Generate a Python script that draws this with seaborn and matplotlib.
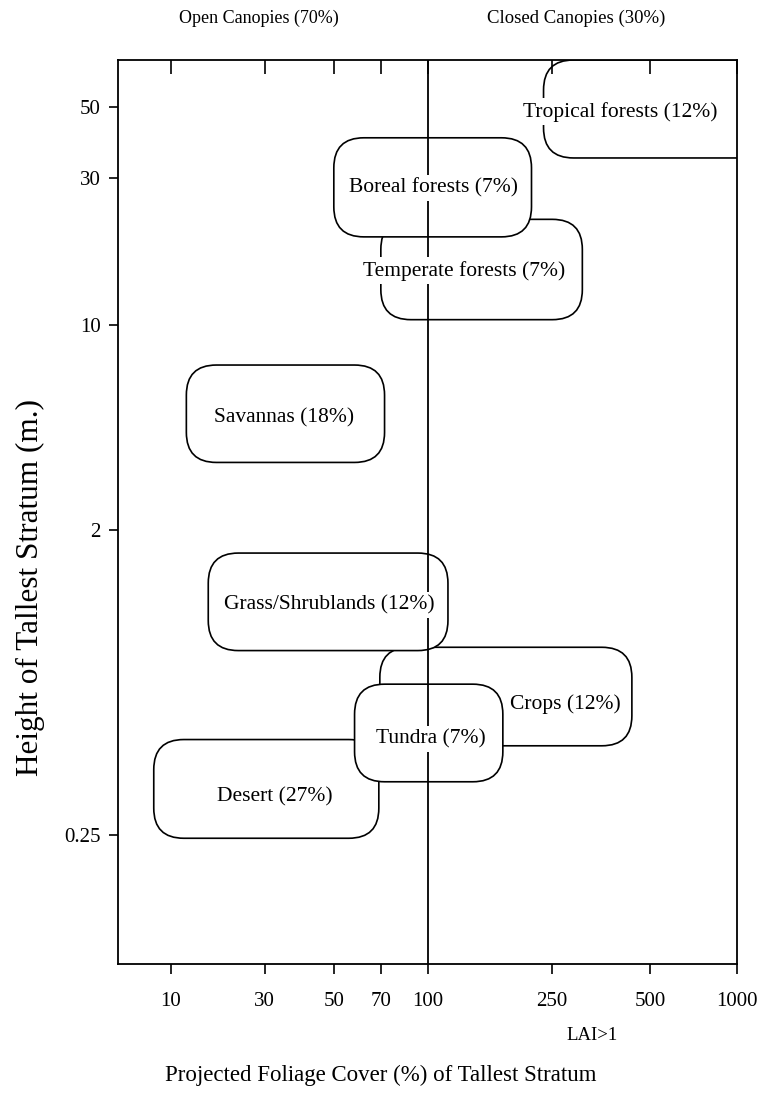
import numpy as np
import matplotlib
matplotlib.use("Agg")
import matplotlib.pyplot as plt
from matplotlib.patches import FancyBboxPatch
from matplotlib.transforms import IdentityTransform
from matplotlib.ticker import FixedLocator, FixedFormatter, NullLocator
import seaborn as sns

# Biome regions: projected foliage cover (%) and height of tallest stratum (m)
biomes = ["Tropical forests (12%)", "Temperate forests (7%)", "Boreal forests (7%)",
          "Savannas (18%)", "Crops (12%)", "Grass/Shrublands (12%)",
          "Desert (27%)", "Tundra (7%)"]
cover_low = [235, 70, 50, 12, 69.5, 15.5, 8.2, 58]
cover_high = [1500, 310, 215, 72, 440, 116, 69, 174]
height_low = [34.6, 10.4, 19.3, 3.4, 0.46, 0.88, 0.245, 0.36]
height_high = [70, 22, 40, 7.3, 0.9, 1.71, 0.48, 0.70]

# where each biome name sits
label_cover = [405, 131, 104, 34.5, 274, 48.5, 32.3, 102]
label_height = [48.2, 15.0, 27.8, 4.82, 0.611, 1.2, 0.324, 0.481]

x_ticks = [10, 30, 50, 70, 100, 250, 500, 1000]
x_tick_labels = ["10", "30", "50", "70", "100", "250", "500", "1000"]
y_ticks = [0.25, 2, 10, 30, 50]
y_tick_labels = ["0.25", "2", "10", "30", "50"]
closed_canopy_cover = 100

# The printed axes are only roughly logarithmic: piecewise-log scales
X_LOG = np.log10([1, 10, 30, 50, 70, 100, 250, 500, 1000, 10000])
X_POS = np.array([-26, 171, 265, 334, 381, 428, 552, 650, 737, 1026], float)
Y_LOG = np.log10([0.01, 0.25, 2, 10, 30, 50, 1000])
Y_POS = -np.array([1307, 835, 530, 325, 178, 107, -309], float)


def x_fwd(v):
    v = np.clip(np.asarray(v, float), 1e-9, None)
    return np.interp(np.log10(v), X_LOG, X_POS)


def x_inv(p):
    return 10 ** np.interp(np.asarray(p, float), X_POS, X_LOG)


def y_fwd(v):
    v = np.clip(np.asarray(v, float), 1e-9, None)
    return np.interp(np.log10(v), Y_LOG, Y_POS)


def y_inv(p):
    return 10 ** np.interp(np.asarray(p, float), Y_POS, Y_LOG)


sns.set_theme(style="white")
plt.rcParams["font.family"] = ["Liberation Serif", "DejaVu Serif"]
plt.rcParams["axes.linewidth"] = 1.3
plt.rcParams["axes.edgecolor"] = "black"

W, H = 762, 1102
fig = plt.figure(figsize=(W / 100, H / 100), dpi=100)
fig.patch.set_facecolor("white")
L, R, T, B = 118, 737, 60, 964
ax = fig.add_axes([L / W, 1 - B / H, (R - L) / W, (B - T) / H])
ax.set_facecolor("white")

ax.set_xscale("function", functions=(x_fwd, x_inv))
ax.set_yscale("function", functions=(y_fwd, y_inv))
ax.set_xlim(5.4, 1000)
ax.set_ylim(0.104, 70)
ax.autoscale(False)

ax.xaxis.set_major_locator(FixedLocator(x_ticks))
ax.xaxis.set_major_formatter(FixedFormatter(x_tick_labels))
ax.xaxis.set_minor_locator(NullLocator())
ax.yaxis.set_major_locator(FixedLocator(y_ticks))
ax.yaxis.set_major_formatter(FixedFormatter(y_tick_labels))
ax.yaxis.set_minor_locator(NullLocator())
ax.tick_params(axis="x", which="major", direction="out", length=7, width=1.2,
               color="black", labelsize=15, pad=13, bottom=True, top=False,
               labelcolor="black")
ax.tick_params(axis="y", which="major", direction="out", length=6.5, width=1.2,
               color="black", labelsize=15, pad=6, left=True, right=False,
               labelcolor="black")
for s in ax.spines.values():
    s.set_visible(True)
    s.set_color("black")
    s.set_linewidth(1.3)

# inward ticks along the top edge
top = ax.twiny()
top.set_xscale("function", functions=(x_fwd, x_inv))
top.set_xlim(ax.get_xlim())
top.xaxis.set_major_locator(FixedLocator(x_ticks))
top.xaxis.set_minor_locator(NullLocator())
top.tick_params(axis="x", direction="in", length=10, width=1.2, color="black",
                labeltop=False, top=True, bottom=False)
for s in top.spines.values():
    s.set_visible(False)

# rounded biome regions, drawn in pixel space so corners stay circular
radius = 30
for i, name in enumerate(biomes):
    (px0, py0), (px1, py1) = ax.transData.transform(
        [(cover_low[i], height_low[i]), (cover_high[i], height_high[i])])
    box = FancyBboxPatch((px0, py0), px1 - px0, py1 - py0,
                         boxstyle=f"round,pad=0,rounding_size={radius}",
                         transform=IdentityTransform(), facecolor="white",
                         edgecolor="black", linewidth=1.2, zorder=2 + i * 0.1)
    ax.add_patch(box)
    box.set_clip_path(ax.patch)

# closed / open canopy divide
ax.axvline(closed_canopy_cover, color="black", linewidth=1.3, zorder=4)

for i, name in enumerate(biomes):
    ax.text(label_cover[i], label_height[i], name, ha="center", va="center",
            fontsize=15.5, color="black", zorder=6,
            bbox=dict(facecolor="white", edgecolor="none", pad=2.5))

fig.text(259 / W, 1 - 18 / H, "Open Canopies (70%)", ha="center", va="center",
         fontsize=13, color="black")
fig.text(576 / W, 1 - 18 / H, "Closed Canopies (30%)", ha="center", va="center",
         fontsize=13.5, color="black")
fig.text(592 / W, 1 - 1035 / H, "LAI>1", ha="center", va="center",
         fontsize=13.5, color="black")
fig.text(381 / W, 1 - 1075 / H, "Projected Foliage Cover (%) of Tallest Stratum",
         ha="center", va="center", fontsize=16.5, color="black")
fig.text(30 / W, 1 - 588 / H, "Height of Tallest Stratum (m.)", ha="center",
         va="center", rotation=90, fontsize=22.5, color="black")

fig.savefig("out.png", dpi=100)
